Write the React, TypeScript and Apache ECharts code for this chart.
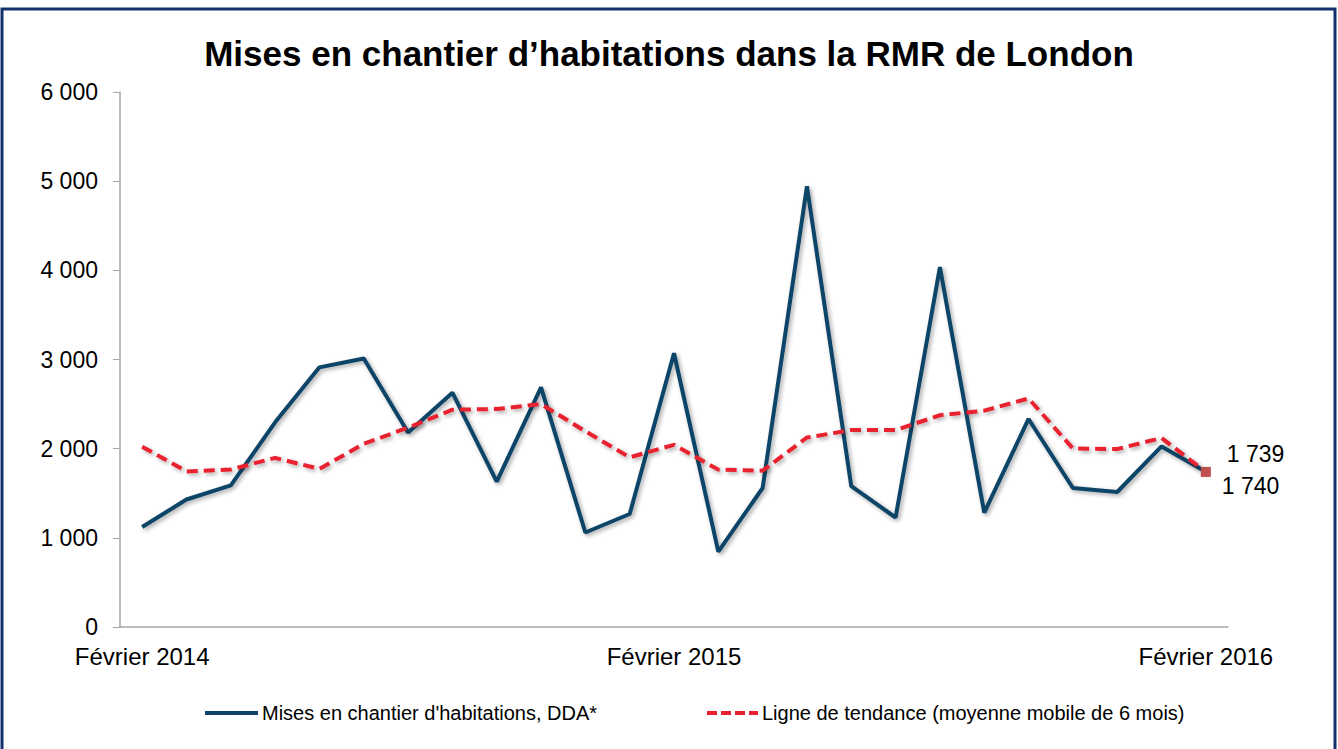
import React, { useEffect, useRef } from "react";
import * as echarts from "echarts";

const months = ["Février", "Mars", "Avril", "Mai", "Juin", "Juillet", "Août", "Septembre", "Octobre", "Novembre", "Décembre", "Janvier"];
const categories: string[] = [];
for (let i = 0; i < 25; i++) {
  const m = months[i % 12];
  const y = 2014 + Math.floor((i + 1) / 12);
  categories.push(`${m} ${y}`);
}

const starts = [1121, 1430, 1588, 2295, 2912, 3012, 2182, 2628, 1630, 2688,
  1060, 1267, 3070, 845, 1559, 4943, 1579, 1228, 4037, 1282,
  2333, 1559, 1514, 2025, 1740];
const trend = [2022, 1745, 1766, 1897, 1773, 2055, 2236, 2437, 2444, 2500,
  2195, 1903, 2043, 1765, 1753, 2125, 2208, 2208, 2375, 2426,
  2563, 2002, 1996, 2120, 1739];

const yTicks = [0, 1000, 2000, 3000, 4000, 5000, 6000];

const fmt = (v: number) => String(Math.round(v)).replace(/\B(?=(\d{3})+(?!\d))/g, " ");

const TITLE = "Mises en chantier d’habitations dans la RMR de London";
const S1 = "Mises en chantier d'habitations, DDA*";
const S2 = "Ligne de tendance (moyenne mobile de 6 mois)";

const FONT = "Arial, 'Liberation Sans', sans-serif";
const BLUE = "#0F4467";
const RED = "#E8202F";

export default function App() {
  const ref = useRef<HTMLDivElement>(null);
  useEffect(() => {
    document.body.style.margin = "0";
    const chart = echarts.init(ref.current!, null, { renderer: "svg" });
    const last = starts.length - 1;
    const shadow = { shadowColor: "rgba(0,0,0,0.35)", shadowBlur: 4, shadowOffsetX: 2, shadowOffsetY: 2 };
    chart.setOption({
      animation: false,
      backgroundColor: "#fff",
      textStyle: { fontFamily: FONT },
      title: {
        text: TITLE,
        left: "center",
        top: 31,
        textStyle: { fontFamily: FONT, fontSize: 35, fontWeight: "bold", color: "#000" },
      },
      graphic: [
        {
          type: "rect",
          shape: { x: 2, y: 9, width: 1333, height: 760 },
          style: { fill: "none", stroke: "#12306E", lineWidth: 3 },
          silent: true,
        },
        {
          type: "line",
          shape: { x1: 205, y1: 713, x2: 258, y2: 713 },
          style: { stroke: BLUE, lineWidth: 4 },
          silent: true,
        },
        {
          type: "text",
          x: 262,
          y: 713,
          style: { text: S1, fontFamily: FONT, fontSize: 20, fill: "#000", verticalAlign: "middle", align: "left" },
          silent: true,
        },
        {
          type: "line",
          shape: { x1: 707, y1: 713, x2: 758, y2: 713 },
          style: { stroke: RED, lineWidth: 4, lineDash: [10, 4] },
          silent: true,
        },
        {
          type: "text",
          x: 762,
          y: 713,
          style: { text: S2, fontFamily: FONT, fontSize: 20, fill: "#000", verticalAlign: "middle", align: "left" },
          silent: true,
        },
      ],
      grid: { left: 120, right: 110, top: 92, bottom: 122, containLabel: false },
      xAxis: {
        type: "category",
        data: categories,
        boundaryGap: true,
        axisLine: { lineStyle: { color: "#A6A6A6", width: 1.5 } },
        axisTick: { show: false },
        axisLabel: {
          interval: 11,
          margin: 17,
          fontFamily: FONT,
          fontSize: 24,
          color: "#000",
        },
      },
      yAxis: {
        type: "value",
        min: yTicks[0],
        max: yTicks[yTicks.length - 1],
        interval: 1000,
        splitLine: { show: false },
        axisLine: { show: true, lineStyle: { color: "#A6A6A6", width: 1.5 } },
        axisTick: { show: true, inside: false, length: 7, lineStyle: { color: "#A6A6A6" } },
        axisLabel: { margin: 22, fontFamily: FONT, fontSize: 23, color: "#000", formatter: (v: number) => fmt(v) },
      },
      series: [
        {
          name: S1,
          type: "line",
          symbol: "none",
          z: 2,
          lineStyle: { color: BLUE, width: 4, ...shadow },
          itemStyle: { color: BLUE },
          data: starts.map((v, i) =>
            i === last
              ? {
                  value: v,
                  symbol: "circle",
                  symbolSize: 4,
                  label: {
                    show: true,
                    position: "right",
                    offset: [9, 14],
                    formatter: (p: any) => fmt(p.value),
                    fontFamily: FONT,
                    fontSize: 23,
                    color: "#000",
                  },
                }
              : v
          ),
        },
        {
          name: S2,
          type: "line",
          symbol: "none",
          z: 3,
          lineStyle: { color: RED, width: 4, type: [11, 6], ...shadow },
          itemStyle: { color: RED },
          data: trend.map((v, i) =>
            i === last
              ? {
                  value: v,
                  symbol: "rect",
                  symbolSize: 10,
                  itemStyle: { color: "#C0504D" },
                  label: {
                    show: true,
                    position: "right",
                    offset: [11, -18],
                    formatter: (p: any) => fmt(p.value),
                    fontFamily: FONT,
                    fontSize: 23,
                    color: "#000",
                  },
                }
              : v
          ),
        },
      ],
    });
    return () => chart.dispose();
  }, []);
  return <div ref={ref} style={{ width: 1338, height: 749 }} />;
}
